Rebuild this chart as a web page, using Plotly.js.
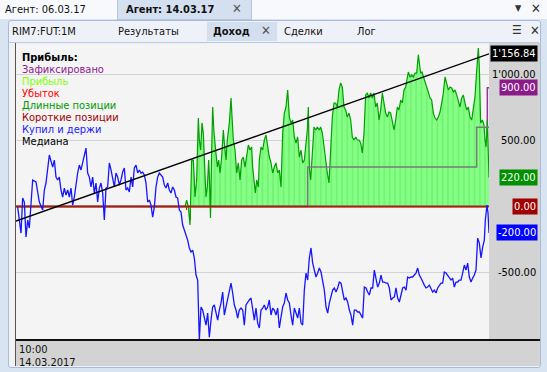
<!DOCTYPE html>
<html><head><meta charset="utf-8">
<script src="https://cdn.plot.ly/plotly-2.35.2.min.js"></script>
<style>
body{margin:0;width:547px;height:372px;overflow:hidden;background:#d9e4f3;font-family:Tahoma,"DejaVu Sans Condensed","DejaVu Sans",sans-serif;font-size:11px;position:relative}
.a{position:absolute;white-space:nowrap}
#plot{position:absolute;left:0;top:0;width:547px;height:372px;z-index:5}
.lg{position:absolute;left:22px;font-size:11px;z-index:6;line-height:12px}
</style></head><body>
<!-- frame -->
<div class="a" style="left:0;top:0;width:547px;height:19px;background:#f7f9fc"></div>
<div class="a" style="left:117px;top:0;width:133px;height:19px;background:#d4e0f0;border:1px solid #b5c7de;border-top:none"></div>
<div class="a" style="left:5px;top:3px;color:#111">Агент: 06.03.17</div>
<div class="a" style="left:126px;top:3px;font-weight:bold;color:#111">Агент: 14.03.17</div>
<div class="a" style="left:232px;top:1px;font-size:13px;color:#555">✕</div>
<div class="a" style="left:515px;top:3px;font-size:9px;color:#333">▼</div>
<div class="a" style="left:531px;top:1px;font-size:13px;color:#333">✕</div>
<div class="a" style="left:8px;top:20px;width:531px;height:346px;background:#eef2f8;border:1px solid #a8bcd8;border-radius:3px"></div>
<div class="a" style="left:207px;top:22px;width:70px;height:19px;background:#d3dfee"></div>
<div class="a" style="left:12px;top:25px;color:#111">RIM7:FUT:1M</div>
<div class="a" style="left:118px;top:25px;color:#111">Результаты</div>
<div class="a" style="left:213px;top:25px;font-weight:bold;color:#111">Доход</div>
<div class="a" style="left:261px;top:23px;font-size:13px;color:#555">✕</div>
<div class="a" style="left:284px;top:25px;color:#111">Сделки</div>
<div class="a" style="left:357px;top:25px;color:#111">Лог</div>
<div class="a" style="left:512px;top:23px;font-size:12px;color:#333">☰</div>
<div class="a" style="left:530px;top:23px;font-size:13px;color:#333">✕</div>
<div class="a" style="left:9px;top:42px;width:530px;height:1px;background:#b8c9e0"></div>
<div class="a" style="left:9px;top:43px;width:7px;height:323px;background:#f2f2f2"></div>
<div class="a" style="left:489px;top:43px;width:51px;height:297px;background:#d3d3d3"></div>
<div class="a" style="left:16px;top:340px;width:524px;height:26px;background:#d3d3d3"></div>
<div class="a" style="left:16px;top:339px;width:524px;height:2px;background:#111;z-index:7"></div>
<div class="a" style="left:15px;top:43px;width:1px;height:323px;background:#555;z-index:7"></div>
<div class="a" style="left:19px;top:343px;color:#111">10:00</div>
<div class="a" style="left:19px;top:356px;color:#111">14.03.2017</div>
<div id="plot"></div>
<div class="lg" style="top:52px;font-weight:bold;color:#000">Прибыль:</div>
<div class="lg" style="top:64px;color:#8b1a8b">Зафиксировано</div>
<div class="lg" style="top:76px;color:#80ff00">Прибыль</div>
<div class="lg" style="top:88px;color:#ff0000">Убыток</div>
<div class="lg" style="top:100px;color:#009a00">Длинные позиции</div>
<div class="lg" style="top:112px;color:#a00000">Короткие позиции</div>
<div class="lg" style="top:124px;color:#1a1aff">Купил и держи</div>
<div class="lg" style="top:136px;color:#000">Медиана</div>
<script>
// Купил и держи (buy and hold), bar index / value
const blueX = [1,3,4,5,6,7,8,9,10,12,13,14,16,17,18,20,22,23,24,25,26,27,28,29,30,31,32,33,34,35,37,38,39,41,42,43,44,45,46,47,48,49,50,51,52,53,54,55,56,57,58,59,60,61,62,63,64,65,66,67,68,69,70,71,72,73,74,75,76,77,78,79,80,81,82,83,84,85,86,87,88,89,90,91,92,93,94,95,96,97,98,99,100,101,102,103,104,105,106,107,108,109,110,111,112,113,114,115,116,117,118,119,120,121,122,123,124,125,126,127,128,129,130,131,132,133,134,135,136,137,138,139,140,141,142,143,144,145,146,147,148,149,150,151,152,153,154,155,156,157,158,159,160,161,162,163,164,165,166,167,168,169,170,171,172,173,174,175,176,177,178,179,180,181,182,183,184,185,186,187,188,189,190,191,192,193,194,195,196,197,198,199,200,201,202,203,204,205,206,207,208,209,210,211,212,213,214,215,216,217,218,219,220,221,222,223,224,225,226,227,228,229,230,231,232,233,234,235,236,237,238,239,240,241,242,243,244,245,246,247,248,249,250,251,252,253,254,255,256,257,258,259,260,261,262,263,264,265,266,267,268,269,270,271,272,273,274,275,276,277,278,279,280,281,281.6,282.6,283.2,283.8];
const blueY = [-4,-201,64,34,-231,-102,-163,-4,201,186,102,34,-27,125,178,390,299,352,223,201,223,125,72,140,87,125,72,140,11,72,254,314,277,375,443,254,223,148,223,102,178,34,140,178,102,-102,140,148,330,277,201,148,254,223,163,201,261,292,125,140,110,223,148,292,314,254,277,254,261,239,178,34,49,11,-80,-4,148,223,254,239,223,163,140,178,125,102,148,125,72,64,-27,-42,-140,-178,-216,-254,-314,-345,-330,-390,-519,-557,-1010,-761,-784,-837,-898,-807,-989,-860,-761,-746,-807,-860,-784,-731,-648,-822,-761,-708,-648,-580,-655,-746,-784,-845,-784,-769,-784,-898,-746,-723,-708,-693,-784,-860,-769,-883,-920,-784,-769,-746,-784,-761,-708,-822,-769,-784,-822,-769,-920,-837,-761,-731,-655,-708,-731,-822,-898,-769,-807,-845,-769,-883,-898,-633,-504,-557,-390,-314,-428,-481,-534,-504,-466,-496,-580,-633,-761,-807,-731,-686,-633,-617,-648,-617,-572,-580,-633,-708,-693,-723,-784,-822,-898,-784,-784,-799,-799,-822,-845,-610,-617,-648,-670,-617,-617,-481,-557,-610,-580,-519,-572,-572,-580,-580,-617,-708,-693,-686,-617,-693,-723,-655,-617,-610,-633,-534,-542,-534,-534,-519,-504,-466,-519,-542,-572,-595,-617,-610,-595,-617,-648,-633,-655,-617,-595,-580,-580,-496,-504,-519,-542,-557,-542,-610,-572,-572,-557,-557,-504,-443,-481,-428,-534,-572,-542,-519,-481,-239,-277,-390,-307,-254,-102,11,-49,-200];
// Длинные позиции (long positions)
const greenX = [101.4,102.4,103.4,104.4,105.4,106.4,106.8,107.4,108.4,109.4,110.0,110.8,111.6,112.4,113.2,114.0,114.8,115.6,116.1,116.7,117.4,118.0,118.8,120.0,120.8,121.6,122.4,123.4,124.4,125.0,126.0,126.8,128.0,129.0,129.8,130.4,131.4,132.4,133.4,134.4,135.4,136.4,137.4,138.4,139.4,140.4,141.4,142.0,142.8,143.6,144.4,145.4,146.0,147.0,148.0,149.0,150.0,151.0,152.0,153.0,154.0,155.0,156.0,157.0,158.0,159.0,160.0,161.0,162.0,163.0,164.0,165.0,166.0,167.0,168.0,169.0,170.0,171.0,172.0,173.0,174.0,174.8,175.4,176.0,176.8,177.8,178.8,179.8,180.8,181.8,182.8,183.8,184.8,185.8,186.8,187.8,188.8,189.8,190.8,191.8,192.8,193.8,194.8,195.8,196.8,197.8,198.8,199.8,200.8,201.8,202.8,203.8,204.8,205.8,206.8,207.8,208.8,209.8,210.8,211.8,212.8,213.8,214.8,215.8,216.8,217.8,218.8,219.8,220.8,221.8,222.8,223.8,224.8,225.8,226.8,227.8,228.8,229.8,230.8,231.8,232.8,233.8,234.8,235.4,236.4,237.4,238.4,239.4,240.4,241.4,242.0,242.8,243.6,244.4,245.4,246.4,247.4,248.4,249.4,250.4,251.4,252.4,253.4,254.4,255.4,256.4,257.4,258.4,259.4,260.4,261.4,262.4,263.4,264.4,265.4,266.4,267.4,268.4,269.4,270.4,271.4,272.4,273.4,274.4,275.4,276.0,276.8,277.4,278.0,278.8,279.8,280.8,281.4,282.0,282.8,283.4,283.8];
const greenY = [0,49,-4,-140,352,352,254,72,201,670,504,428,633,557,299,72,148,352,201,-87,428,754,557,428,299,352,254,375,580,481,352,504,633,822,633,504,428,254,330,201,352,375,299,405,466,428,451,299,178,102,201,148,352,451,428,504,542,451,375,330,254,299,330,254,277,148,557,708,754,883,678,633,655,527,481,527,375,428,330,352,504,580,754,299,201,428,602,580,602,580,602,557,451,330,254,178,428,678,784,784,754,883,936,905,754,731,678,708,655,527,504,527,504,504,481,405,557,845,860,822,860,822,860,754,784,655,731,860,784,708,678,716,708,633,580,655,754,731,807,784,883,905,981,1019,981,996,981,1011,1011,1150,1087,1011,1019,981,943,905,867,822,807,708,670,655,678,716,784,860,981,936,883,905,898,867,883,845,807,754,822,845,784,731,754,678,655,754,830,955,1110,1200,1057,633,655,617,504,451,655,223,220];
// Убыток (loss)
const lossX = [102.4,104.8,116.8];
const lossY = [-27,-102,-49];
// Короткие позиции (short positions)
const shortX = [0,283.8];
const shortY = [0,0];
// Зафиксировано (fixed)
const fixedX = [0,282.8,283.8];
const fixedY = [0,900,900];
// step line
const stepX = [0,175.0,276.4,283.8];
const stepY = [0,300,600,600];
// Медиана
const medianX = [0,283.8];
const medianY = [-110,1156.84];
// axis labels
const gridVals = [1000,500,-500];

function fmt(v){
  const s=Math.abs(v).toFixed(2).split('.');
  const i=s[0].replace(/\B(?=(\d{3})+(?!\d))/g,"'");
  return (v<0?'-':'')+i+'.'+s[1];
}
const FONT = 'Tahoma, "DejaVu Sans Condensed", "DejaVu Sans", sans-serif';
const traces = [
  {x:fixedX,y:fixedY,mode:'lines',line:{shape:'hv',color:'#9b2fa0',width:1.5},hoverinfo:'skip'},
  {x:greenX,y:greenY,mode:'lines',fill:'tozeroy',fillcolor:'#80fb80',
   fillpattern:{shape:'|',size:5.3,solidity:0.2,fgcolor:'#66ec66',bgcolor:'#86ff86'},
   line:{color:'#00a000',width:1.2},hoverinfo:'skip'},
  {x:lossX,y:lossY,type:'bar',width:0.9,marker:{color:'#ff0000'},hoverinfo:'skip'},
  {x:stepX,y:stepY,mode:'lines',line:{shape:'hv',color:'#7a7a7a',width:1.5},hoverinfo:'skip'},
  {x:shortX,y:shortY,mode:'lines',line:{color:'#a3200a',width:2},hoverinfo:'skip'},
  {x:blueX,y:blueY,mode:'lines',line:{color:'#1515ff',width:1.3},hoverinfo:'skip'},
  {x:medianX,y:medianY,mode:'lines',line:{color:'#000',width:1.4},hoverinfo:'skip'}
];
const xr = 1.1036;
function lab(v,bg){
  return {xref:'paper',yref:'y',x:xr,y:v,xanchor:'right',yanchor:'middle',text:fmt(v),showarrow:false,
    font:{family:FONT,size:11,color:bg?'#fff':'#000'},bgcolor:bg||'rgba(0,0,0,0)',borderpad:1};
}
const anns = gridVals.map(v=>lab(v,null)).concat([
  lab(medianY[medianY.length-1],'#000'),
  lab(fixedY[fixedY.length-1],'#8b1a8b'),
  lab(greenY[greenY.length-1],'#009000'),
  lab(shortY[shortY.length-1],'#a00000'),
  lab(blueY[blueY.length-1],'#0000ff')
]);
const layout = {
  width:547,height:372,margin:{l:16,r:58,t:44,b:32},
  paper_bgcolor:'rgba(0,0,0,0)',plot_bgcolor:'#f4f4f4',showlegend:false,
  xaxis:{range:[0,283.8],showgrid:false,zeroline:false,showticklabels:false,ticks:''},
  yaxis:{range:[-1011,1231],tickvals:gridVals,showticklabels:false,gridcolor:'#d2d2d2',gridwidth:1,zeroline:false,ticks:''},
  annotations:anns,bargap:0
};
Plotly.newPlot('plot',traces,layout,{staticPlot:true,displayModeBar:false});
</script>
</body></html>
